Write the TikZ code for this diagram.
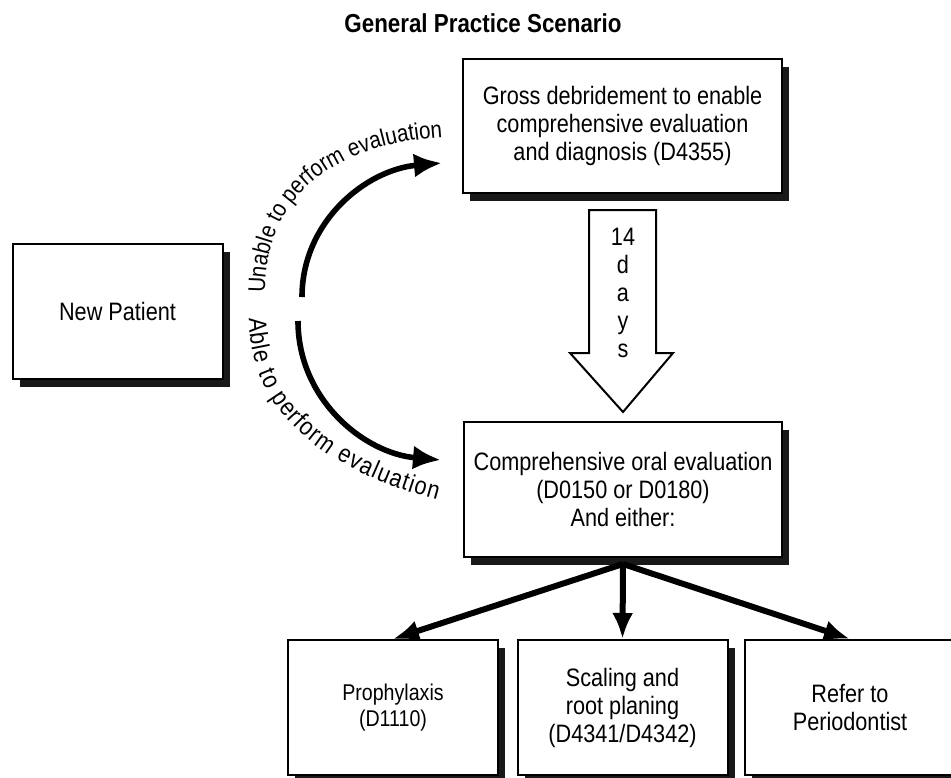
\documentclass[tikz,border=0pt]{standalone}
\usepackage{fontspec}
\setmainfont{Liberation Sans}[FakeStretch=0.86]
\usetikzlibrary{arrows.meta,shadows,decorations.text}
\newcommand{\boxfont}{\fontsize{12.6}{14}\selectfont}
\newcommand{\smallboxfont}{\fontsize{11.4}{13}\selectfont}
\newcommand{\curvefont}{\fontsize{12}{14}\selectfont}
\newcommand{\lowcurvefont}{\fontsize{12.6}{14}\selectfont}

\begin{document}
\begin{tikzpicture}[x=.5pt, y=.5pt, >={Latex[length=13pt,width=10.5pt]},
    box/.style={draw, line width=1pt, fill=white, align=center, font=\boxfont,
        minimum width=105pt, minimum height=67.5pt, inner sep=2pt,
        drop shadow={shadow xshift=3.5pt, shadow yshift=-4pt, fill=black, opacity=.9}},
    fat/.style={->, line width=2.5pt},
    curved/.style={-{Latex[length=14pt,width=12pt]}, line width=2.8pt}]
\useasboundingbox (0,0) rectangle (951,-777);

\node (title) at (483,-23){\fontsize{13}{15}\selectfont\bfseries General Practice Scenario};

\node[box] (np) at (117.5,-311.5){New Patient};
\node[box, minimum width=159.5pt, minimum height=67pt] (gross) at (622.5,-126)
    {Gross debridement to enable\\comprehensive evaluation\\and diagnosis (D4355)};
\node[box, minimum width=159pt] (comp) at (623,-489.5)
    {Comprehensive oral evaluation\\(D0150 or D0180)\\And either:};

\node[box, font=\smallboxfont] (p1) at (393,-707.5){Prophylaxis\\(D1110)};
\node[box] (p2) at (622.5,-707.5){Scaling and\\root planing\\(D4341/D4342)};
\node[box] (p3) at (850,-707.5){Refer to\\Periodontist};

% 14 days
\draw[line width=1pt, fill=white] (589,-210)--(656,-210)--(656,-353)--(673,-353)
    --(623,-412)--(570,-353)--(589,-353)--cycle;
\node[align=center, font=\boxfont] (days) at (623,-293){14\\d\\a\\y\\s};

% the two ways out of the new patient
\coordinate (ustart) at (302,-297);
\coordinate (lstart) at (298,-321);
\draw[curved] (ustart) to[out=90, in=185] ([xshift=-10pt, yshift=-18.5pt]gross.west);
\draw[curved] (lstart) to[out=-90, in=175] ([xshift=-11pt, yshift=14.75pt]comp.west);

\path[decorate, decoration={text along path, text align=left,
    text={|\curvefont|Unable to perform evaluation}}]
    (265,-293) to[out=90, in=185, looseness=1.1] (433,-138) -- (480,-134);
\path[decorate, decoration={text along path, text align=fit to path,
    text={|\lowcurvefont|Able to perform evaluation}}]
    (249,-318) to[out=-90, in=165] (437,-500);

\foreach \n in {p1,p2,p3}
{
    \draw[fat, line width=3pt] ([yshift=-3pt]comp.south) -- (\n.north);
}

\end{tikzpicture}
\end{document}
